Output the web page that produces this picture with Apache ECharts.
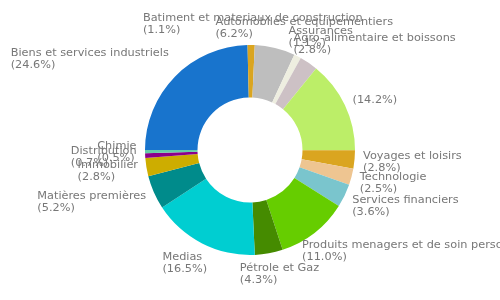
<!DOCTYPE html>
<html>
<head>
<meta charset="utf-8">
<script src="https://cdn.jsdelivr.net/npm/echarts@6/dist/echarts.min.js"></script>
<style>html,body{margin:0;padding:0;background:#fff}#c{width:500px;height:300px}</style>
</head>
<body>
<div id="c"></div>
<script>
const categories = ['Biens et services industriels','Batiment et materiaux de construction','Automobiles et equipementiers','Assurances','Agro-alimentaire et boissons','','Voyages et loisirs','Technologie','Services financiers','Produits menagers et de soin personnel','Pétrole et Gaz','Medias','Matières premières','Immobilier','Distribution','Chimie'];
const values = [24.6,1.1,6.2,1.1,2.8,14.2,2.8,2.5,3.6,11.0,4.3,16.5,5.2,2.8,0.7,0.5];
const colors = ['#1874CD','#DAA520','#BEBEBE','#EEEEE0','#CDC1C5','#BCEE68','#DAA520','#EEC591','#7AC5CD','#66CD00','#458B00','#00CED1','#008B8B','#CDAD00','#8B008B','#66CDAA'];

const START = 180;      // degrees, first slice starts at 9 o'clock, clockwise
const OUTER = 0.70, INNER = 0.35, LABEL_GAP = 8.5;

const total = values.reduce((a,b)=>a+b,0);
const midFrac = [];
{ let acc = 0; values.forEach(v=>{ midFrac.push((acc+v/2)/total); acc+=v; }); }

function anchorFrac(t){ // t: degrees clockwise from 12 o'clock
  t = ((t%360)+360)%360;
  let ax, ay;
  if (t<45){ ax=0.5-t/90; ay=1; }
  else if (t<135){ ax=0; ay=1-(t-45)/90; }
  else if (t<225){ ax=(t-135)/90; ay=0; }
  else if (t<315){ ax=1; ay=(t-225)/90; }
  else { ax=1-(t-315)/90; ay=1; }
  return [ax, ay];
}

const chart = echarts.init(document.getElementById('c'), null, {renderer:'canvas'});
chart.setOption({
  animation:false,
  series:[{
    type:'pie',
    center:['50%','50%'],
    radius:[(INNER*100)+'%',(OUTER*100)+'%'],
    startAngle:START,
    clockwise:true,
    avoidLabelOverlap:false,
    data: categories.map((n,i)=>({name:n, value:values[i], itemStyle:{color:colors[i]}})),
    label:{show:true, position:'outside', formatter:p=>p.name+'\n('+p.value.toFixed(1)+'%)', color:'#777', fontSize:11.3, lineHeight:12, fontFamily:'DejaVu Sans', align:'left'},
    labelLine:{show:false},
    labelLayout:function(params){
      const w = chart.getWidth(), h = chart.getHeight();
      const cx = w/2, cy = h/2;
      const R = OUTER*Math.min(w,h)/2 + LABEL_GAP;
      const t = midFrac[params.dataIndex]*360 + (90 - START) ; // clockwise from top
      const tr = t*Math.PI/180;
      const px = cx + R*Math.sin(tr), py = cy - R*Math.cos(tr);
      const [ax, ay] = anchorFrac(t);
      const lw = params.labelRect.width, lh = params.labelRect.height;
      return {x: px - ax*lw, y: py - ay*lh, align:'left', verticalAlign:'top', hideOverlap:false, moveOverlap:null};
    }
  }]
});
</script>
</body>
</html>
